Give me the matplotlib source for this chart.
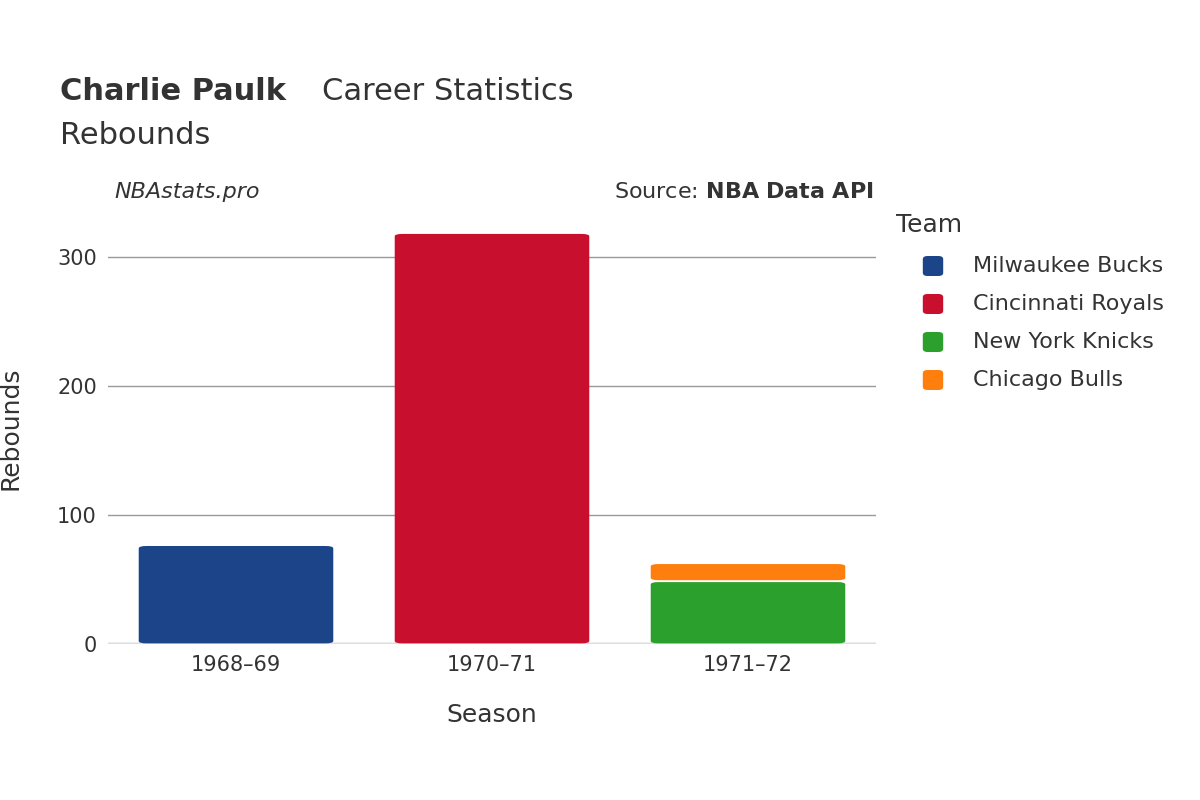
import matplotlib.pyplot as plt
from matplotlib.patches import FancyBboxPatch

seasons = ["1968–69", "1970–71", "1971–72"]
teams = ["Milwaukee Bucks", "Cincinnati Royals", "New York Knicks", "Chicago Bulls"]
colors = ["#1c4489", "#c8102e", "#2ca02c", "#ff7f0e"]
# per team: (season index, rebounds)
bucks = [(0, 77)]
royals = [(1, 319)]
knicks = [(2, 49)]
bulls = [(2, 14)]
series = [bucks, royals, knicks, bulls]

fig = plt.figure(figsize=(12, 8), dpi=100)
ax = fig.add_axes([0.09, 0.195, 0.64, 0.54])
txt = "#333333"

bottoms = [0] * len(seasons)
for data, col in zip(series, colors):
    for i, v in data:
        b = bottoms[i]
        p = FancyBboxPatch((i - 0.4 + 0.02, b + 0.5), 0.76, v - 1.5,
                           boxstyle="round,pad=0,rounding_size=0.03",
                           mutation_aspect=60, fc=col, ec="none", zorder=3)
        ax.add_patch(p)
        bottoms[i] += v

ax.set_xlim(-0.5, 2.5)
ax.set_ylim(0, 335)
ax.set_xticks(range(len(seasons)))
ax.set_xticklabels(seasons)
ax.set_yticks([0, 100, 200, 300])
ax.grid(axis="y", color="#999999", lw=1, zorder=0)
ax.axhline(0, color="#eeeeee", lw=3, zorder=1)
for s in ax.spines.values():
    s.set_visible(False)
ax.tick_params(length=0, labelsize=15, colors=txt, pad=8)
ax.set_xlabel("Season", fontsize=18, color=txt, labelpad=20)
ax.set_ylabel("Rebounds", fontsize=18, color=txt, labelpad=25)

fig.text(0.05, 0.875, "Charlie Paulk", fontsize=22, weight="bold", color=txt)
fig.text(0.268, 0.875, "Career Statistics", fontsize=22, color=txt)
fig.text(0.05, 0.82, "Rebounds", fontsize=22, color=txt)
fig.text(0.095, 0.752, "NBAstats.pro", fontsize=16, style="italic", color=txt)
fig.text(0.728, 0.752, "Source: $\\bf{NBA\\ Data\\ API}$", fontsize=16, color=txt, ha="right")

fig.text(0.747, 0.71, "Team", fontsize=18, color=txt)
for k, (t, c) in enumerate(zip(teams, colors)):
    y = 0.667 - k * 0.0475
    fig.patches.append(FancyBboxPatch((0.769, y - 0.012), 0.017, 0.025,
                                      boxstyle="round,pad=0,rounding_size=0.004",
                                      transform=fig.transFigure, fc=c, ec="none"))
    fig.text(0.811, y, t, fontsize=16, color=txt, va="center")

fig.savefig("out.png")
